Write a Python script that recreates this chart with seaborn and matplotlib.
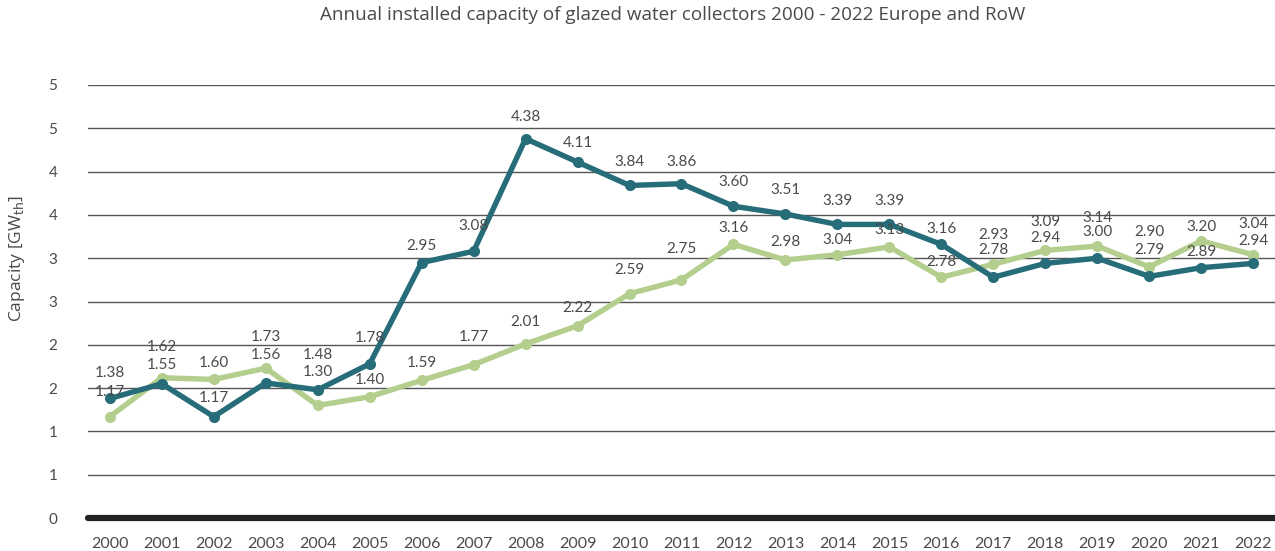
import numpy as np
import pandas as pd
import matplotlib
matplotlib.use("Agg")
import matplotlib.pyplot as plt
from matplotlib.ticker import FuncFormatter
import seaborn as sns

years = list(range(2000, 2023))
europe = [1.38, 1.55, 1.17, 1.56, 1.48, 1.78, 2.95, 3.08, 4.38, 4.11, 3.84, 3.86,
          3.60, 3.51, 3.39, 3.39, 3.16, 2.78, 2.94, 3.00, 2.79, 2.89, 2.94]
row = [1.17, 1.62, 1.60, 1.73, 1.30, 1.40, 1.59, 1.77, 2.01, 2.22, 2.59, 2.75,
       3.16, 2.98, 3.04, 3.13, 2.78, 2.93, 3.09, 3.14, 2.90, 3.20, 3.04]

# vertical label offsets (pixels above each point) to keep labels readable
europe_dy = [25, 19, 19, 28, 35, 26, 17, 25, 22, 19, 23, 22,
             24, 24, 23, 23, 15, 27, 25, 26, 26, 16, 22]
row_dy = [25, 31, 16, 31, 33, 17, 17, 28, 22, 18, 24, 31,
          16, 18, 15, 17, 15, 29, 28, 28, 35, 14, 31]

teal = "#266c79"
green = "#b3ce8d"
text_col = "#4a4a4a"

df = pd.DataFrame({
    "idx": list(range(len(years))) * 2,
    "value": row + europe,
    "series": ["RoW"] * len(years) + ["Europe"] * len(years),
})

sns.set_theme(style="white")
plt.rcParams["font.family"] = ["Lato", "DejaVu Sans"]

fig = plt.figure(figsize=(12.75, 5.51), dpi=100)
ax = fig.add_axes([88 / 1275, 33 / 551, 1 - 88 / 1275, 433 / 551])

sns.lineplot(data=df, x="idx", y="value", hue="series",
             palette={"RoW": green, "Europe": teal}, hue_order=["RoW", "Europe"],
             marker="o", markersize=8, markeredgewidth=0, linewidth=3.9,
             legend=False, ax=ax, zorder=3)

ax.set_xlim(-0.42, 22.42)
ax.set_ylim(0, 5)
ax.set_yticks(np.arange(0, 5.01, 0.5))
ax.yaxis.set_major_formatter(FuncFormatter(lambda v, _: f"{int(np.floor(v + 0.5))}"))
ax.set_xticks(range(len(years)))
ax.set_xticklabels([str(y) for y in years])

ax.grid(axis="y", color="#555555", linewidth=1.0)
ax.grid(axis="x", visible=False)
for s in ["top", "right", "left", "bottom"]:
    ax.spines[s].set_visible(False)
ax.axhline(0, color="#222222", linewidth=4.5, zorder=4, clip_on=False)

ax.tick_params(axis="y", length=0, pad=22, labelsize=11, labelcolor=text_col)
ax.tick_params(axis="x", length=0, pad=14, labelsize=11.5, labelcolor=text_col)
ax.set_xlabel("")
ax.set_ylabel(r"Capacity [GW$_{\mathrm{th}}$]", fontsize=12.5, color=text_col,
              family=["Open Sans", "DejaVu Sans"])
ax.yaxis.set_label_coords(-0.051, 0.60)

for vals, dys in ((europe, europe_dy), (row, row_dy)):
    for i, (v, dy) in enumerate(zip(vals, dys)):
        ax.annotate(f"{v:.2f}", (i, v), xytext=(0, dy), textcoords="offset pixels",
                    ha="center", va="center", fontsize=11, color=text_col, zorder=5)

fig.text(673 / 1275, 1 - 15 / 551,
         "Annual installed capacity of glazed water collectors 2000 - 2022 Europe and RoW",
         ha="center", va="center", fontsize=13.6, color=text_col,
         family=["Open Sans", "DejaVu Sans"])

fig.savefig("out.png", dpi=100)
